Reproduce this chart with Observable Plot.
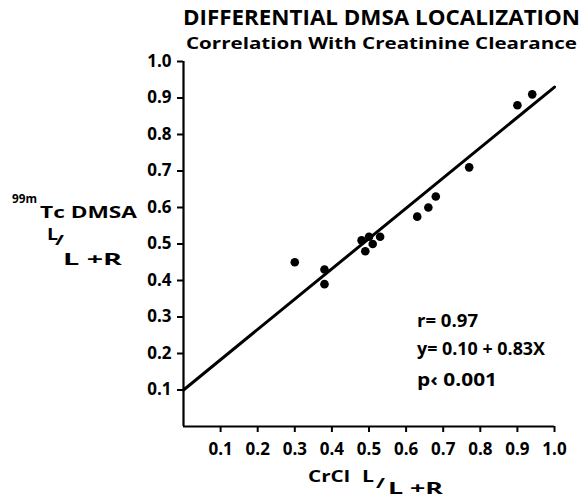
<!DOCTYPE html>
<html>
<head>
<meta charset="utf-8">
<script src="https://cdn.jsdelivr.net/npm/d3@7"></script>
<script src="https://cdn.jsdelivr.net/npm/@observablehq/plot@0.6"></script>
<style>
  html, body { margin: 0; padding: 0; background: #fff; }
  #wrap { position: relative; width: 581px; height: 499px; overflow: hidden; }
  #wrap > svg { position: absolute; left: 0; top: 0; }
  .lbl { font-family: "Open Sans", "Liberation Sans", sans-serif; font-weight: 700; fill: #000; }
</style>
</head>
<body>
<div id="wrap"></div>
<script>
// Data
const crclRatio = [0.30, 0.38, 0.38, 0.48, 0.50, 0.49, 0.51, 0.53, 0.63, 0.66, 0.68, 0.77, 0.90, 0.94];
const dmsaRatio = [0.45, 0.43, 0.39, 0.51, 0.52, 0.48, 0.50, 0.52, 0.575, 0.60, 0.63, 0.71, 0.88, 0.91];
// Regression line endpoints: y = 0.10 + 0.83x
const fitX = [0, 1.0];
const fitY = [0.10, 0.93];
const xTicks = [0.1, 0.2, 0.3, 0.4, 0.5, 0.6, 0.7, 0.8, 0.9, 1.0];
const yTicks = [0.1, 0.2, 0.3, 0.4, 0.5, 0.6, 0.7, 0.8, 0.9, 1.0];
const titleText = "DIFFERENTIAL DMSA LOCALIZATION";
const subtitleText = "Correlation With Creatinine Clearance";
const statLines = ["r= 0.97", "y= 0.10 + 0.83X", "p\u2039 0.001"];

const points = crclRatio.map((x, i) => ({x, y: dmsaRatio[i]}));
const fit = fitX.map((x, i) => ({x, y: fitY[i]}));
const fmt = d => d.toFixed(1);

const chart = Plot.plot({
  width: 581,
  height: 499,
  marginLeft: 183,
  marginRight: 27,
  marginTop: 61,
  marginBottom: 73,
  x: {domain: [0, 1]},
  y: {domain: [0, 1]},
  style: {fontFamily: "'Open Sans', 'Liberation Sans', sans-serif", fontSize: "17px", fontWeight: 700, color: "#000", background: "#fff"},
  marks: [
    Plot.ruleX([0], {stroke: "#000", strokeWidth: 2.2}),
    Plot.ruleY([0], {stroke: "#000", strokeWidth: 2.2}),
    Plot.axisX(xTicks, {tickSize: 6, tickPadding: 10, tickFormat: fmt, strokeWidth: 2, label: null, fontSize: 17}),
    Plot.axisY(yTicks, {tickSize: 6, tickPadding: 6, tickFormat: fmt, strokeWidth: 2, label: null, fontSize: 17}),
    Plot.line(fit, {x: "x", y: "y", stroke: "#000", strokeWidth: 3}),
    Plot.dot(points, {x: "x", y: "y", r: 4.3, fill: "#000", stroke: "none"})
  ]
});
document.getElementById("wrap").appendChild(chart);

// Text overlay (titles, axis labels, statistics)
const svg = d3.select("#wrap").append("svg").attr("width", 581).attr("height", 499);
function t(str, x, y, size, len) {
  const el = svg.append("text").attr("class", "lbl").attr("x", x).attr("y", y)
    .attr("font-size", size).text(str);
  if (len) el.attr("textLength", len).attr("lengthAdjust", "spacingAndGlyphs");
  return el;
}
t(titleText, 183, 25, 20.5, 397);
t(subtitleText, 186, 49, 16.5, 391);
// y label
t("99m", 12, 203, 13, 25);
t("Tc DMSA", 40, 218, 16.5, 97);
t("L", 47, 240, 16.5, 11);
t("/", 55, 245, 14, 9);
t("L +R", 63, 265, 16.5, 59);
// x label
t("CrCl", 308, 482, 16.5, 42);
t("L", 362, 482, 16.5, 12);
t("/", 376, 488, 14, 9);
t("L +R", 388, 494, 16, 55);
// stats
t(statLines[0], 417, 327, 18, 61);
t(statLines[1], 417, 355, 18, 128);
t(statLines[2], 417, 386, 18, 80);
</script>
</body>
</html>
